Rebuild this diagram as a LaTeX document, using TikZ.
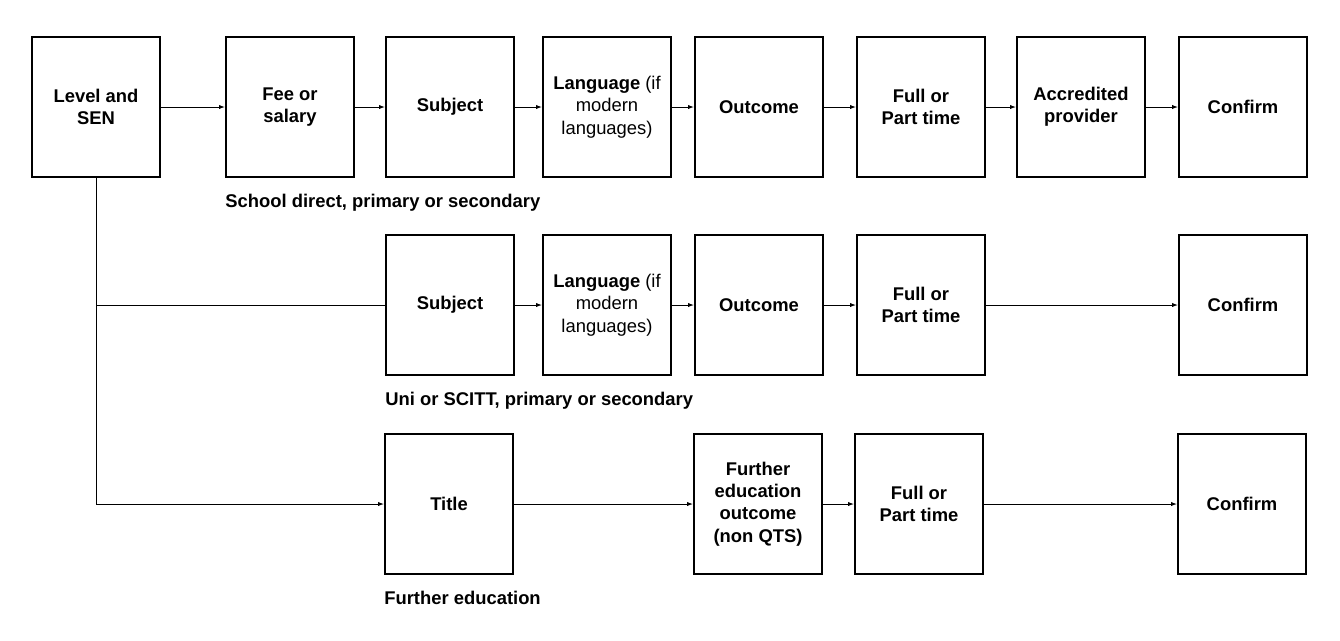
\documentclass[tikz,border=0pt]{standalone}
\usepackage{fontspec}
\setmainfont{Liberation Sans}
\usetikzlibrary{positioning,arrows.meta}

\begin{document}
\begin{tikzpicture}[x=0.75pt, y=-0.75pt, >={Latex[length=4.5pt,width=3.2pt]}]
  \useasboundingbox (0,0) rectangle (1340,640);

  \tikzset{stepbox/.style={draw, line width=1.4pt, minimum width=96pt, minimum height=105pt, inner sep=2pt, align=center, font=\fontsize{13.8}{16.8}\selectfont\bfseries}}
  \tikzset{caption/.style={inner sep=0pt, font=\fontsize{13.8}{16.8}\selectfont\bfseries}}
  \tikzset{every edge/.style={draw, line width=0.75pt}}

  % school direct
  \node[stepbox] (level) at (96,107) {Level and\\SEN};
  \node[stepbox] (fee) at (290,107) {Fee or\\salary};
  \node[stepbox] (subject) at (450,107) {Subject};
  \node[stepbox] (language) at (607,107) {Language {\mdseries (if}\\{\mdseries modern}\\{\mdseries languages)}};
  \node[stepbox] (outcome) at (759,107) {Outcome};
  \node[stepbox] (full) at (921,107) {Full or\\Part time};
  \node[stepbox] (provider) at (1081,107) {Accredited\\provider};
  \node[stepbox] (confirm) at (1243,107) {Confirm};

  % uni or scitt
  \node[stepbox] (subjectb) at (450,305) {Subject};
  \node[stepbox] (languageb) at (607,305) {Language {\mdseries (if}\\{\mdseries modern}\\{\mdseries languages)}};
  \node[stepbox] (outcomeb) at (759,305) {Outcome};
  \node[stepbox] (fullb) at (921,305) {Full or\\Part time};
  \node[stepbox] (confirmb) at (1243,305) {Confirm};

  % further education
  \node[stepbox] (title) at (449,504) {Title};
  \node[stepbox] (feoutcome) at (758,504) {Further\\education\\outcome\\(non QTS)};
  \node[stepbox] (fullc) at (919,504) {Full or\\Part time};
  \node[stepbox] (confirmc) at (1242,504) {Confirm};

  \node[caption, below=22.5pt of fee.south west, anchor=base west] (schoolcap) {School direct, primary or secondary};
  \node[caption, below=22.5pt of subjectb.south west, anchor=base west] (unicap) {Uni or SCITT, primary or secondary};
  \node[caption, below=22.5pt of title.south west, anchor=base west] (fecap) {Further education};

  \path[->] (level) edge (fee);
  \path[->] (fee) edge (subject);
  \path[->] (subject) edge (language);
  \path[->] (language) edge (outcome);
  \path[->] (outcome) edge (full);
  \path[->] (full) edge (provider);
  \path[->] (provider) edge (confirm);

  \path[->] (subjectb) edge (languageb);
  \path[->] (languageb) edge (outcomeb);
  \path[->] (outcomeb) edge (fullb);
  \path[->] (fullb) edge (confirmb);

  \path[->] (title) edge (feoutcome);
  \path[->] (feoutcome) edge (fullc);
  \path[->] (fullc) edge (confirmc);

  \draw[->, line width=0.75pt] (level.south) |- (title);
  \draw[line width=0.75pt] (level.south |- subjectb) -- (subjectb);
\end{tikzpicture}
\end{document}
